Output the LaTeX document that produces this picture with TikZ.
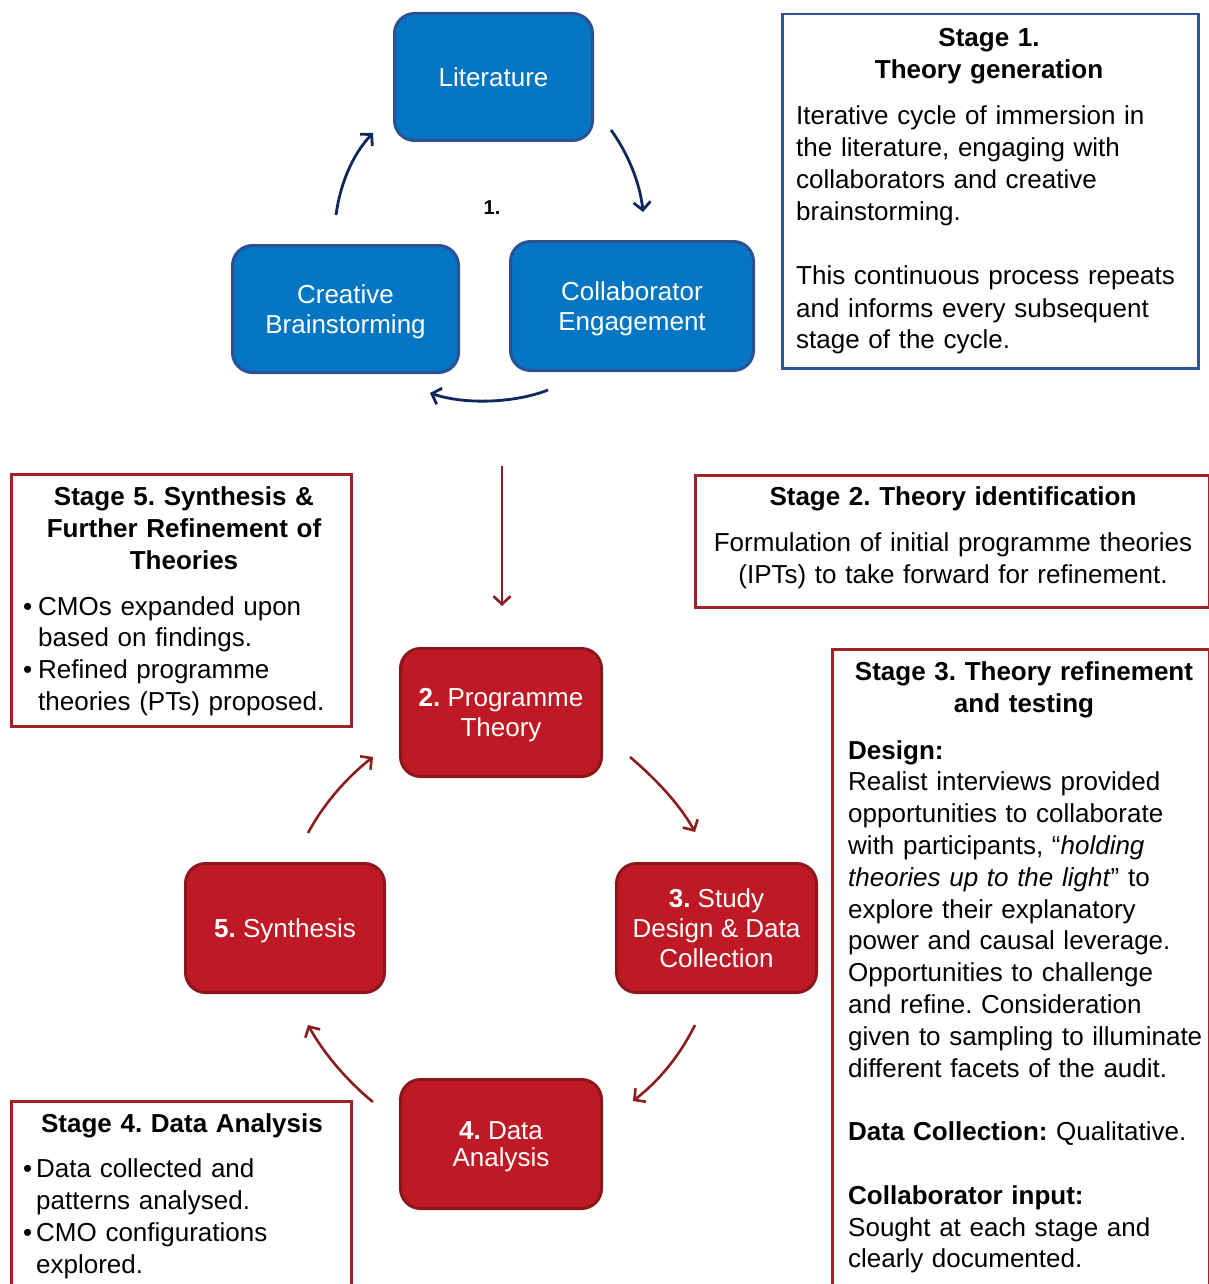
\documentclass[tikz,border=0pt]{standalone}
\usepackage{fontspec}
\setmainfont{Liberation Sans}
\usetikzlibrary{arrows.meta}

\definecolor{cycleblue}{RGB}{2,118,194}
\definecolor{blueedge}{RGB}{44,80,148}
\definecolor{bluearrow}{RGB}{14,40,94}
\definecolor{stageblue}{RGB}{46,84,160}
\definecolor{cyclered}{RGB}{190,25,36}
\definecolor{rededge}{RGB}{140,22,28}
\definecolor{redarrow}{RGB}{139,28,32}
\definecolor{stagered}{RGB}{163,32,40}

\begin{document}
\frenchspacing
\begin{tikzpicture}[x=1pt,y=-1pt,
  boxlabel/.style={align=center, text=white, inner sep=0pt, text depth=0pt,
    font=\fontsize{26}{30}\selectfont},
  bluebox/.style={boxlabel, draw=blueedge, fill=cycleblue, line width=3pt,
    rounded corners=20pt},
  redbox/.style={boxlabel, draw=rededge, fill=cyclered, line width=3pt,
    rounded corners=20pt},
  stagebox/.style={draw, line width=2.5pt, fill=white, inner sep=0pt,
    anchor=north west},
  titletext/.style={anchor=base, align=center, inner sep=0pt,
    text width=520pt, font=\fontsize{26}{32}\selectfont\bfseries},
  bodytext/.style={anchor=base west, align=left, inner sep=0pt,
    text width=400pt, font=\fontsize{26}{32}\selectfont},
  bluearr/.style={draw=bluearrow, line width=2.8pt,
    -{Straight Barb[length=8pt,width=17pt]}},
  redarr/.style={draw=redarrow, line width=2.6pt,
    -{Straight Barb[length=8pt,width=17pt]}}]

\useasboundingbox (0,0) rectangle (1209,1284);

% ---------- Stage 1: theory generation cycle ----------
\node[bluebox, minimum width=198pt, minimum height=127pt] (lit) at (493.5,77)
  {Literature};
\node[bluebox, minimum width=226pt, minimum height=127pt] (cre) at (345.5,309)
  {Creative\\Brainstorming};
\node[bluebox, minimum width=243pt, minimum height=129pt] (col) at (632,306)
  {Collaborator\\Engagement};
\node[font=\fontsize{20}{24}\selectfont\bfseries, inner sep=0pt] (one)
  at (492,208) {1.};

\coordinate (b1s) at (336,215);  \coordinate (b1e) at (373,133);
\coordinate (b2s) at (611,130);  \coordinate (b2e) at (643,212);
\coordinate (b3s) at (548,390);  \coordinate (b3e) at (430,393);
\draw[bluearr] (b1s) .. controls (340,185) and (352,155) .. (b1e);
\draw[bluearr] (b2s) .. controls (627,152) and (640,182) .. (b2e);
\draw[bluearr] (b3s) .. controls (515,403) and (465,405) .. (b3e);

\node[stagebox, draw=stageblue, minimum width=416pt, minimum height=354pt]
  (s1) at (781,13) {};
\node[titletext] (s1t) at (989,47) {Stage 1.\\Theory generation};
\node[bodytext] (s1b) at (796,125)
  {Iterative cycle of immersion in\\
   the literature, engaging with\\
   collaborators and creative\\
   brainstorming.\\[32pt]
   This continuous process repeats\\
   and informs every subsequent\\
   stage of the cycle.};

% ---------- link from stage 1 into the main cycle ----------
\coordinate (ds) at (502,466);
\coordinate (de) at (502,606);
\draw[redarr] (ds) -- (de);

% ---------- main cycle ----------
\node[redbox, minimum width=201pt, minimum height=128pt] (prog) at (501,712.5)
  {\textbf{2.} Programme\\Theory};
\node[redbox, minimum width=199pt, minimum height=129pt] (syn) at (285,928)
  {\textbf{5.} Synthesis};
\node[redbox, minimum width=200pt, minimum height=129pt] (stu) at (716.5,928)
  {\textbf{3.} Study\\Design \& Data\\Collection};
\node[redbox, minimum width=201pt, minimum height=129pt,
  font=\fontsize{26}{27}\selectfont] (ana) at (501,1144)
  {\textbf{4.} Data\\Analysis};

\coordinate (r1s) at (630,757);   \coordinate (r1e) at (695,832);
\coordinate (r2s) at (695,1025);  \coordinate (r2e) at (633,1101);
\coordinate (r3s) at (373,1102);  \coordinate (r3e) at (308,1025);
\coordinate (r4s) at (308,833);   \coordinate (r4e) at (373,757);
\draw[redarr] (r1s) .. controls (657,780) and (680,805) .. (r1e);
\draw[redarr] (r2s) .. controls (680,1055) and (660,1080) .. (r2e);
\draw[redarr] (r3s) .. controls (346,1080) and (323,1052) .. (r3e);
\draw[redarr] (r4s) .. controls (323,805) and (346,778) .. (r4e);

% ---------- stage descriptions ----------
\node[stagebox, draw=stagered, minimum width=514pt, minimum height=132pt]
  (s2) at (694,474) {};
\node[titletext] (s2t) at (953,505) {Stage 2. Theory identification};
\node[titletext, font=\fontsize{26}{32}\selectfont] (s2b) at (953,551)
  {Formulation of initial programme theories\\
   (IPTs) to take forward for refinement.};

\node[stagebox, draw=stagered, minimum width=340pt, minimum height=252pt]
  (s5) at (10,473) {};
\node[titletext] (s5t) at (184,505)
  {Stage 5. Synthesis \&\\Further Refinement of\\Theories};
\node[bodytext, font=\fontsize{26}{31.7}\selectfont] (s5b) at (23,615)
  {\makebox[15pt][l]{\textbullet}CMOs expanded upon\\
   \hspace*{15pt}based on findings.\\
   \makebox[15pt][l]{\textbullet}Refined programme\\
   \hspace*{15pt}theories (PTs) proposed.};

\node[stagebox, draw=stagered, minimum width=377pt, minimum height=660pt]
  (s3) at (831,648) {};
\node[titletext] (s3t) at (1024,680) {Stage 3. Theory refinement\\and testing};
\node[bodytext, font=\fontsize{26}{31.8}\selectfont] (s3b) at (848,759)
  {\textbf{Design:}\\
   Realist interviews provided\\
   opportunities to collaborate\\
   with participants, “\textit{holding}\\
   \textit{theories up to the light}” to\\
   explore their explanatory\\
   power and causal leverage.\\
   Opportunities to challenge\\
   and refine. Consideration\\
   given to sampling to illuminate\\
   different facets of the audit.\\[31.8pt]
   \textbf{Data Collection:} Qualitative.\\[31.8pt]
   \textbf{Collaborator input:}\\
   Sought at each stage and\\
   clearly documented.};

\node[stagebox, draw=stagered, minimum width=340pt, minimum height=200pt]
  (s4) at (10,1100) {};
\node[titletext] (s4t) at (182,1132) {Stage 4. Data Analysis};
\node[bodytext, font=\fontsize{26}{32}\selectfont] (s4b) at (23,1177)
  {\makebox[13pt][l]{\textbullet}Data collected and\\
   \hspace*{13pt}patterns analysed.\\
   \makebox[13pt][l]{\textbullet}CMO configurations\\
   \hspace*{13pt}explored.};

\end{tikzpicture}
\end{document}
